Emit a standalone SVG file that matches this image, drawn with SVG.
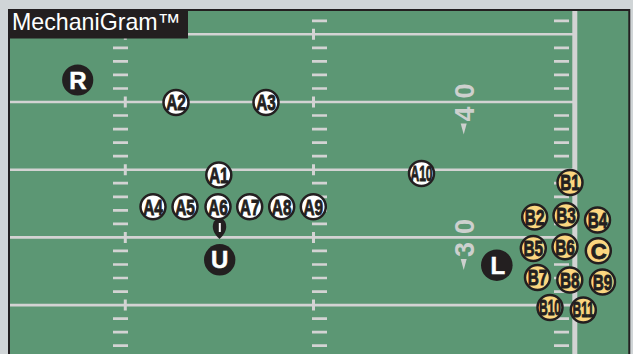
<svg xmlns="http://www.w3.org/2000/svg" xmlns:xlink="http://www.w3.org/1999/xlink" width="633" height="354" viewBox="0 0 633 354">
  <defs>
    <style>
      .ln { stroke: #d3d3d3; fill: none; }
      .yard { stroke-width: 2.6; }
      .hash { stroke-width: 2.7; }
      .tick { stroke-width: 3; }
      .num { font-family: "Liberation Sans", Arial, sans-serif; font-weight: bold; font-size: 27px; fill: #cdd0ce; text-anchor: middle; }
      .tri { fill: #cdd0ce; }
      .pw circle { fill: #ffffff; stroke: #231f20; stroke-width: 2.5; }
      .py circle { fill: #fbd680; stroke: #231f20; stroke-width: 2.5; }
      .pk circle { fill: #231f20; }
      .pw text, .py text { font-family: "Liberation Sans", Arial, sans-serif; font-weight: bold; font-size: 22px; fill: #231f20; stroke: #231f20; stroke-width: 0.9; text-anchor: middle; }
      .pk text { font-family: "Liberation Sans", Arial, sans-serif; font-weight: bold; font-size: 24px; fill: #ffffff; stroke: #ffffff; stroke-width: 0.5; text-anchor: middle; }
    </style>
    <path id="hashcol" d="M0 20.8h15M0 47.8h15M0 61.4h15M0 74.9h15M0 88.5h15M0 115.5h15M0 129.1h15M0 142.6h15M0 156.2h15M0 183.2h15M0 196.8h15M0 210.3h15M0 223.9h15M0 250.9h15M0 264.5h15M0 278h15M0 291.6h15M0 318.6h15M0 332.2h15M0 345.7h15"/>
    <path id="tickcol" d="M0 28.8v11M0 96.5v11M0 164.2v11M0 231.9v11M0 299.6v11"/>
  </defs>

  <!-- background and field -->
  <rect x="0" y="0" width="633" height="354" fill="#d0d5d7"/>
  <rect x="9" y="10" width="620" height="344" fill="#5c9774"/>
  <path d="M9 354V10H629.3V354" fill="none" stroke="#231f20" stroke-width="2"/>

  <!-- field markings -->
  <g id="field">
    <path class="ln yard" d="M10 34.3H573M10 102H573M10 169.7H573M10 237.4H573M10 305.1H573"/>
    <g class="ln hash">
      <use xlink:href="#hashcol" transform="translate(113,0)"/>
      <use xlink:href="#hashcol" transform="translate(312,0)"/>
      <use xlink:href="#hashcol" transform="translate(554,0)"/>
    </g>
    <g class="ln tick">
      <use xlink:href="#tickcol" transform="translate(125.3,0)"/>
      <use xlink:href="#tickcol" transform="translate(313.5,0)"/>
    </g>
    <rect x="572.3" y="11" width="5" height="343" fill="#d3d3d3"/>
    <!-- yard numbers -->
    <text class="num" transform="translate(473.5,91) rotate(-90)">0</text>
    <text class="num" transform="translate(473.5,114) rotate(-90)">4</text>
    <polygon class="tri" points="460.7,123.5 466.7,123.5 463.7,134.5"/>
    <text class="num" transform="translate(473.5,226.4) rotate(-90)">0</text>
    <text class="num" transform="translate(473.5,249.4) rotate(-90)">3</text>
    <polygon class="tri" points="460.7,259 466.7,259 463.7,270"/>
  </g>

  <!-- title -->
  <g id="title">
    <rect x="8" y="9" width="180" height="29.5" fill="#231f20"/>
    <text x="12" y="30" font-family="Liberation Sans, Arial, sans-serif" font-size="23.2" fill="#ffffff">MechaniGram™</text>
  </g>

  <!-- connectors (none) -->
  <g id="connectors"></g>

  <!-- ball -->
  <g id="ball">
    <path d="M219.5 239C214.5 234.5 212.8 230.5 212.8 226.5C212.8 221.5 216 218 219.5 218C223 218 226.2 221.5 226.2 226.5C226.2 230.5 224.5 234.5 219.5 239Z" fill="#231f20"/>
    <path d="M219.8 223v9" stroke="#ffffff" stroke-width="2"/>
  </g>

  <!-- officials / players -->
  <g id="R" class="pk"><circle cx="77.7" cy="80" r="15.6"/><text x="78" y="88.6">R</text></g>
  <g id="U" class="pk"><circle cx="219.7" cy="259.8" r="15.7"/><text x="219.7" y="268.4">U</text></g>
  <g id="L" class="pk"><circle cx="496.8" cy="265.2" r="15.8"/><text x="497.8" y="273.8">L</text></g>

  <g id="A2" class="pw"><circle cx="176" cy="102.5" r="12.5"/><text transform="translate(176,110.3) scale(0.7,1)">A2</text></g>
  <g id="A3" class="pw"><circle cx="266" cy="102.5" r="12.5"/><text transform="translate(266,110.3) scale(0.7,1)">A3</text></g>
  <g id="A1" class="pw"><circle cx="218.8" cy="175" r="12.5"/><text transform="translate(218.8,182.8) scale(0.7,1)">A1</text></g>
  <g id="A4" class="pw"><circle cx="153" cy="206.7" r="12.5"/><text transform="translate(153,214.5) scale(0.7,1)">A4</text></g>
  <g id="A5" class="pw"><circle cx="185" cy="206.7" r="12.5"/><text transform="translate(185,214.5) scale(0.7,1)">A5</text></g>
  <g id="A6" class="pw"><circle cx="218" cy="206.7" r="12.5"/><text transform="translate(218,214.5) scale(0.7,1)">A6</text></g>
  <g id="A7" class="pw"><circle cx="249.7" cy="206.7" r="12.5"/><text transform="translate(249.7,214.5) scale(0.7,1)">A7</text></g>
  <g id="A8" class="pw"><circle cx="281.7" cy="206.7" r="12.5"/><text transform="translate(281.7,214.5) scale(0.7,1)">A8</text></g>
  <g id="A9" class="pw"><circle cx="313.3" cy="206.7" r="12.5"/><text transform="translate(313.3,214.5) scale(0.7,1)">A9</text></g>
  <g id="A10" class="pw"><circle cx="421.5" cy="173.5" r="12.5"/><text transform="translate(421.5,180.5) scale(0.55,1)" font-size="19.5">A10</text></g>

  <g id="B1" class="py"><circle cx="570" cy="182.5" r="12.5"/><text transform="translate(570,190.3) scale(0.7,1)">B1</text></g>
  <g id="B2" class="py"><circle cx="534.7" cy="217" r="12.5"/><text transform="translate(534.7,224.8) scale(0.7,1)">B2</text></g>
  <g id="B3" class="py"><circle cx="566" cy="215.5" r="12.5"/><text transform="translate(566,223.3) scale(0.7,1)">B3</text></g>
  <g id="B4" class="py"><circle cx="597.5" cy="220" r="12.5"/><text transform="translate(597.5,227.8) scale(0.7,1)">B4</text></g>
  <g id="B5" class="py"><circle cx="533.3" cy="248.5" r="12.5"/><text transform="translate(533.3,256.3) scale(0.7,1)">B5</text></g>
  <g id="B6" class="py"><circle cx="565" cy="246.7" r="12.5"/><text transform="translate(565,254.5) scale(0.7,1)">B6</text></g>
  <g id="C" class="py"><circle cx="598.3" cy="250.8" r="12.5"/><text x="598.8" y="259.3" font-size="23" stroke-width="0">C</text></g>
  <g id="B7" class="py"><circle cx="537.5" cy="277.5" r="12.5"/><text transform="translate(537.5,285.3) scale(0.7,1)">B7</text></g>
  <g id="B8" class="py"><circle cx="569.8" cy="280" r="12.5"/><text transform="translate(569.8,287.8) scale(0.7,1)">B8</text></g>
  <g id="B9" class="py"><circle cx="602.5" cy="282" r="12.5"/><text transform="translate(602.5,289.8) scale(0.7,1)">B9</text></g>
  <g id="B10" class="py"><circle cx="550" cy="307.5" r="12.5"/><text transform="translate(550,314.5) scale(0.55,1)" font-size="19.5">B10</text></g>
  <g id="B11" class="py"><circle cx="583.3" cy="310" r="12.5"/><text transform="translate(583.3,317) scale(0.55,1)" font-size="19.5">B11</text></g>
</svg>
